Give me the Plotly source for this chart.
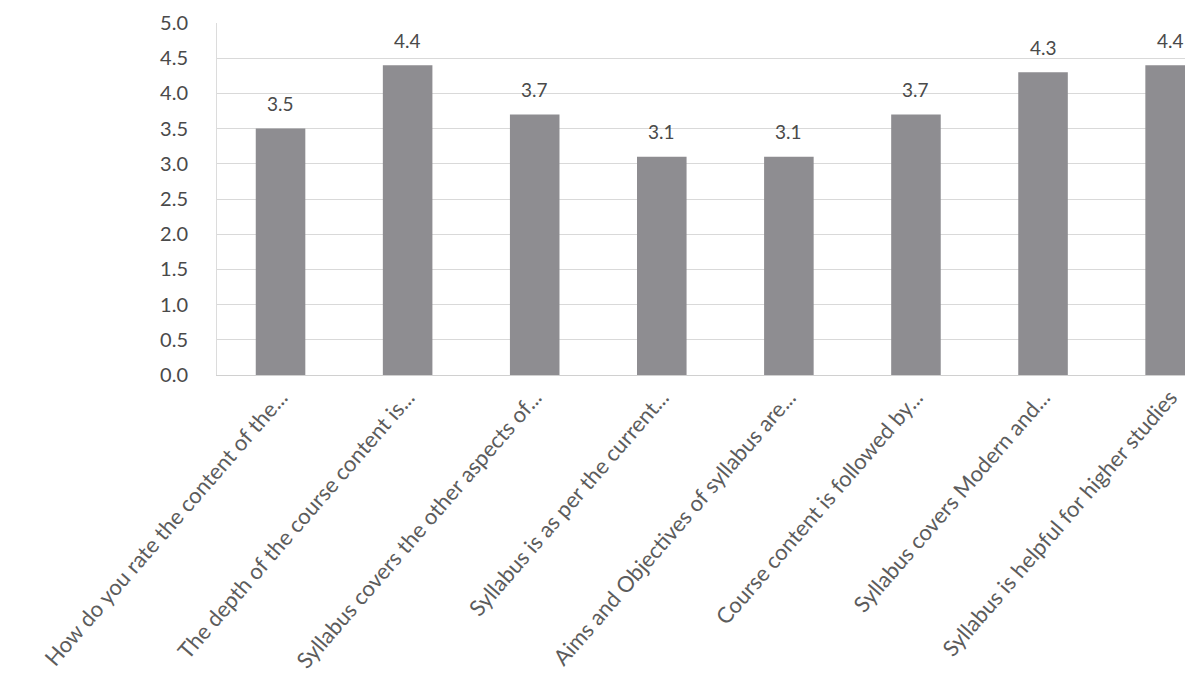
import plotly.graph_objects as go

categories = [
    "How do you rate the content of the...",
    "The depth of the course content is...",
    "Syllabus covers the other aspects of...",
    "Syllabus is as per the current...",
    "Aims and Objectives of syllabus are...",
    "Course content is followed by...",
    "Syllabus covers Modern and...",
    "Syllabus is helpful for higher studies",
]
values = [3.5, 4.4, 3.7, 3.1, 3.1, 3.7, 4.3, 4.4]
value_labels = ["3.5", "4.4", "3.7", "3.1", "3.1", "3.7", "4.3", "4.4"]
y_ticks = [0.0, 0.5, 1.0, 1.5, 2.0, 2.5, 3.0, 3.5, 4.0, 4.5, 5.0]

font_family = "Lato, Open Sans, sans-serif"

fig = go.Figure(
    go.Bar(
        x=categories,
        y=values,
        marker=dict(color="#8e8d91", line=dict(width=0)),
        width=0.39,
        hoverinfo="x+y",
    )
)

for cat, val, lab in zip(categories, values, value_labels):
    fig.add_annotation(
        x=cat,
        y=val,
        text=lab,
        showarrow=False,
        yanchor="middle",
        yshift=25,
        font=dict(family=font_family, size=19, color="#4a4a4a"),
    )

fig.update_layout(
    width=1193,
    height=688,
    margin=dict(l=209, r=8, t=15, b=321, autoexpand=False),
    paper_bgcolor="white",
    plot_bgcolor="white",
    showlegend=False,
    font=dict(family=font_family, color="#4a4a4a"),
    xaxis=dict(
        range=[-0.5, 7.18],
        tickangle=-49,
        tickfont=dict(size=22, color="#5c5c5c"),
        showgrid=False,
        showline=True,
        linecolor="#d0d0d0",
        linewidth=1,
        ticks="",
        automargin=False,
        fixedrange=True,
    ),
    yaxis=dict(
        range=[0, 5.0],
        tickvals=y_ticks,
        ticktext=[f"{v:.1f}" for v in y_ticks],
        tickfont=dict(size=20, color="#4a4a4a"),
        showgrid=True,
        gridcolor="#d9d9d9",
        gridwidth=1,
        zeroline=False,
        showline=True,
        linecolor="#dcdcdc",
        linewidth=1,
        ticks="",
        ticklabelstandoff=24,
        automargin=False,
        fixedrange=True,
    ),
)

fig.write_html("out.html")
